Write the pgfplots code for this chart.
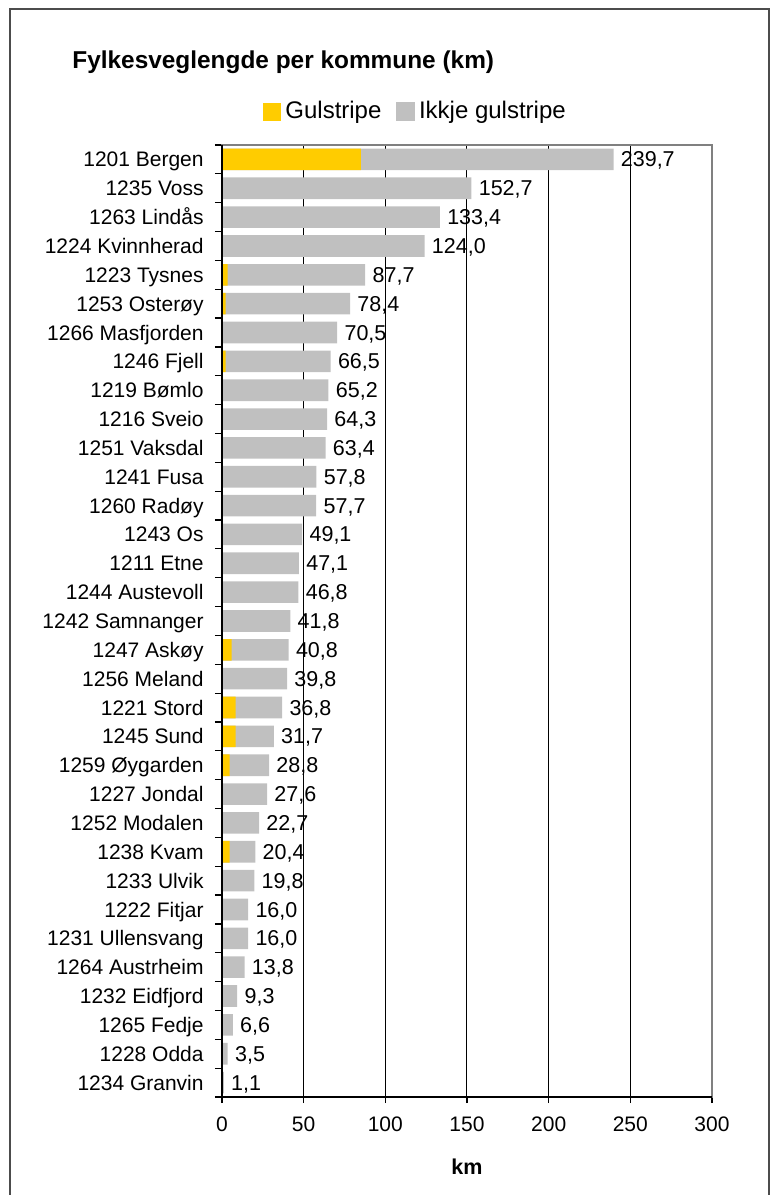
\documentclass[border=0pt]{standalone}
\usepackage{pgfplots}
\usepackage{pgfplotstable}
\pgfplotsset{compat=1.18}
\usepackage{fontspec}
\setmainfont{Liberation Sans}
\definecolor{gul}{RGB}{255,204,0}
\definecolor{gra}{RGB}{192,192,192}
\definecolor{bord}{RGB}{128,128,128}

% idx: position (32 = top); yellow = gulstripe km; total = total km
\pgfplotstableread{
idx yellow total
32 85.0 239.7
31 0 152.7
30 0 133.4
29 0 124.0
28 3.4 87.7
27 2.2 78.4
26 0 70.5
25 2.2 66.5
24 0 65.2
23 0 64.3
22 0 63.4
21 0 57.8
20 0 57.7
19 0 49.1
18 0 47.1
17 0 46.8
16 0 41.8
15 5.9 40.8
14 0 39.8
13 8.3 36.8
12 8.3 31.7
11 4.7 28.8
10 0 27.6
9 0 22.7
8 4.7 20.4
7 0 19.8
6 0 16.0
5 0 16.0
4 0 13.8
3 0 9.3
2 0 6.6
1 0 3.5
0 0 1.1
}\data

\begin{document}
\begin{tikzpicture}
\useasboundingbox (0,0) rectangle (387.5bp,597.5bp);
\draw[line width=0.75bp, black!70] (5bp,-5bp) -- (5bp,593bp) -- (384.5bp,593bp) -- (384.5bp,-5bp);
\node[anchor=base west, inner sep=0pt, font=\fontsize{12.2bp}{14bp}\selectfont\bfseries] at (36bp,563bp) {Fylkesveglengde per kommune (km)};
\begin{axis}[
  at={(111bp,49bp)}, anchor=south west,
  width=245bp, height=476bp, scale only axis,
  xbar, bar width=10.8bp, bar shift=0pt,
  xmin=0, xmax=300, ymin=-0.5, ymax=32.5,
  enlargelimits=false, clip=false,
  xtick={0,50,...,300},
  ytick={0,...,32},
  yticklabels={1234 Granvin, 1228 Odda, 1265 Fedje, 1232 Eidfjord, 1264 Austrheim, 1231 Ullensvang, 1222 Fitjar, 1233 Ulvik, 1238 Kvam, 1252 Modalen, 1227 Jondal, 1259 Øygarden, 1245 Sund, 1221 Stord, 1256 Meland, 1247 Askøy, 1242 Samnanger, 1244 Austevoll, 1211 Etne, 1243 Os, 1260 Radøy, 1241 Fusa, 1251 Vaksdal, 1216 Sveio, 1219 Bømlo, 1246 Fjell, 1266 Masfjorden, 1253 Osterøy, 1223 Tysnes, 1224 Kvinnherad, 1263 Lindås, 1235 Voss, 1201 Bergen},
  minor ytick={-0.5,0.5,...,32.5},
  major y tick style={draw=none},
  minor y tick style={draw=black, line width=0.6bp},
  major x tick style={draw=black, line width=0.6bp},
  tick align=outside,
  major tick length=3bp, minor tick length=3.5bp,
  xtick pos=bottom, ytick pos=left,
  xmajorgrids, major grid style={black, line width=0.5bp},
  axis line style={draw=bord, line width=1bp},
  /pgf/number format/assume math mode=true,
  tick label style={font=\fontsize{10.5bp}{12bp}\selectfont},
  yticklabel style={anchor=base east, inner sep=0pt, yshift=-3.76bp, xshift=-6bp},
  xticklabel style={anchor=base, inner sep=0pt, yshift=-14bp},
  xlabel={\bfseries km},
  xlabel style={at={(axis description cs:0.5,0)}, anchor=base, inner sep=0pt, yshift=-38.5bp, font=\fontsize{10.75bp}{12bp}\selectfont},
  legend columns=2,
  legend style={draw=none, fill=none, inner sep=0pt, outer sep=0pt,
    at={(axis description cs:0.0837,1.035)}, anchor=west,
    font=\fontsize{12bp}{14bp}\selectfont,
    nodes={inner xsep=2.2bp, inner ysep=0pt},
    /tikz/every even column/.append style={column sep=5bp}},
  legend cell align=left,
]
% full length (grey) with total label
\addplot[fill=gra, draw=none, forget plot,
  point meta=explicit,
  nodes near coords={\pgfmathprintnumber[fixed, fixed zerofill, precision=1, use comma, assume math mode=true]{\pgfplotspointmeta}},
  nodes near coords style={anchor=base west, inner sep=0pt, xshift=3.5bp, yshift=-3.76bp, font=\fontsize{10.75bp}{12bp}\selectfont, black}]
  table[x=total, y=idx, meta=total] {\data};
% gulstripe part
\addplot[fill=gul, draw=none, legend image code/.code={\fill[gul] (0bp,-4.5bp) rectangle (9bp,4.5bp);}] table[x=yellow, y=idx] {\data};
\addlegendentry{Gulstripe}
\addlegendimage{legend image code/.code={\fill[gra] (0bp,-4.5bp) rectangle (9bp,4.5bp);}}
\addlegendentry{Ikkje gulstripe}
\end{axis}
\draw[black, line width=0.75bp] (111bp,525bp) -- (111bp,49bp) -- (356bp,49bp);
\end{tikzpicture}
\end{document}
